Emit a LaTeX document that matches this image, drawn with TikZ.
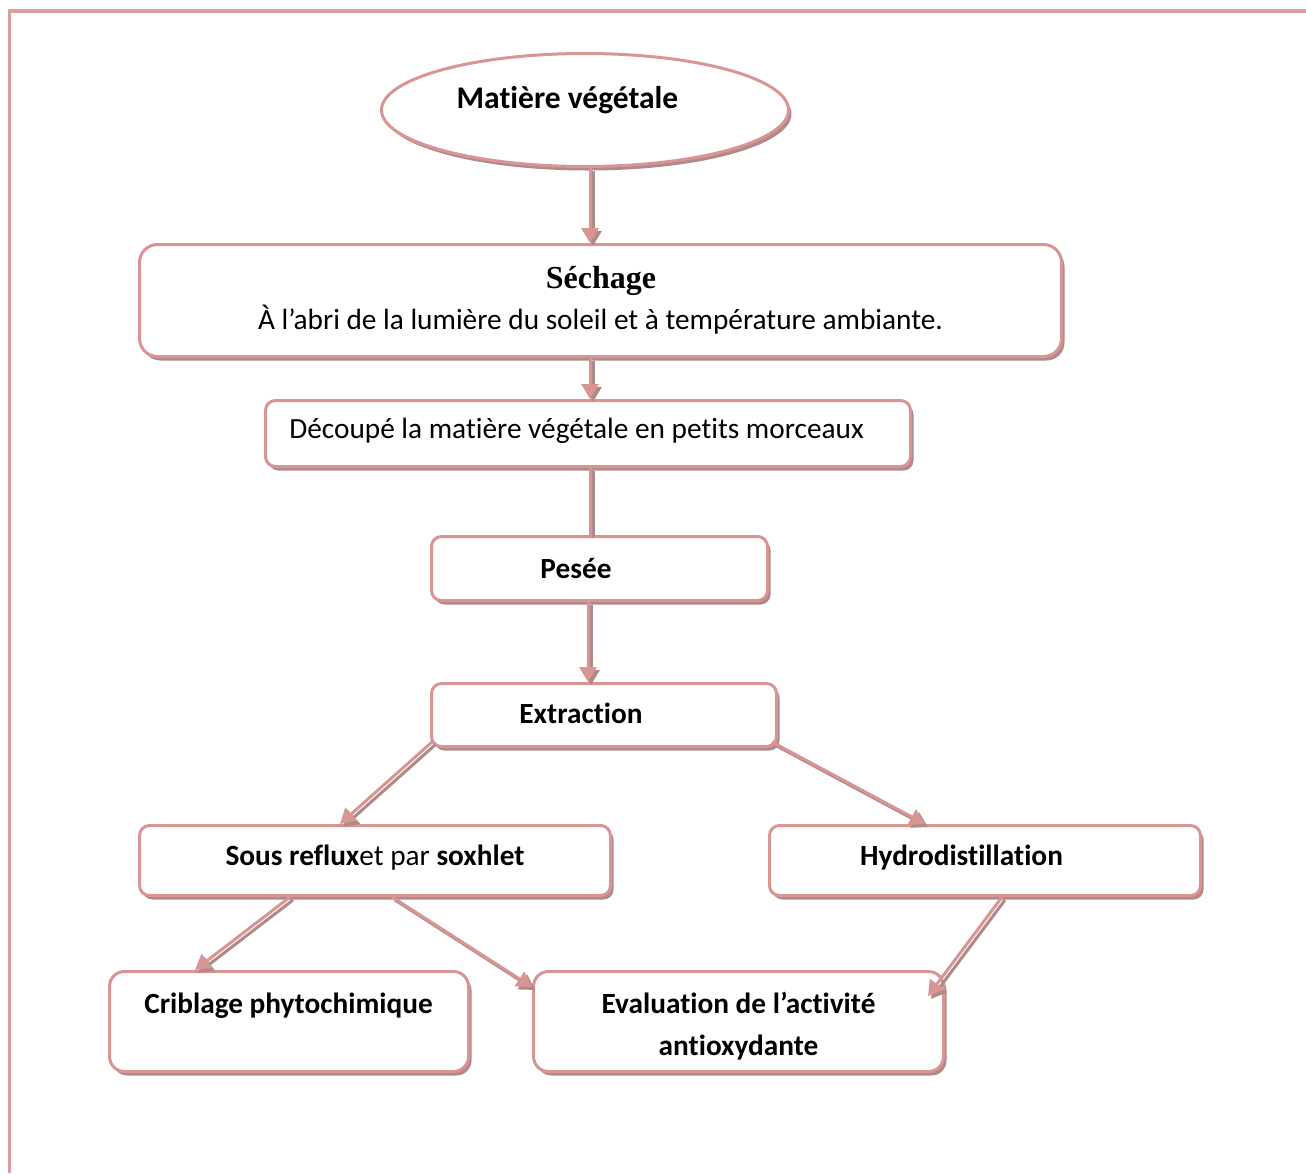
\documentclass[tikz,border=0pt]{standalone}
\usepackage{fontspec}
\setmainfont[Ligatures={NoCommon}]{Carlito}
\newfontfamily\serifbf{Liberation Serif}
\usetikzlibrary{arrows.meta,shapes.geometric,shadows,calc}
\definecolor{pinkc}{HTML}{D99594}
\definecolor{shadc}{HTML}{B08989}
\definecolor{framec}{HTML}{DE9C9C}
\newcommand\myconn[2][]{%
  \begin{scope}[transform canvas={shift={(3pt,-3pt)}}]\draw[arr,draw=shadc,#1] #2;\end{scope}
  \draw[arr,#1] #2;}
\begin{document}
\begin{tikzpicture}[x=1pt,y=-1pt,
  box/.style={draw=pinkc, line width=3pt, fill=white, rounded corners=#1, inner sep=0pt,
    drop shadow={shadow xshift=3pt, shadow yshift=-4pt, fill=shadc, opacity=1}},
  box/.default=10pt,
  oval/.style={ellipse, draw=pinkc, line width=3pt, fill=white, inner sep=0pt,
    drop shadow={shadow xshift=3pt, shadow yshift=-4pt, fill=shadc, opacity=1}},
  txt/.style={inner sep=0pt, anchor=base, font=\fontsize{29.3}{35}\selectfont},
  btxt/.style={txt, font=\fontsize{29.3}{35}\selectfont\bfseries},
  arr/.style={draw=pinkc, line width=3pt, -{Triangle[width=17pt,length=15pt]}},
  plain/.style={draw=pinkc, line width=3pt}]
\useasboundingbox (0,0) rectangle (1306,1173);
\fill[white] (0,0) rectangle (1306,1173);
% frame
\draw[framec, line width=3.5pt] (9.5,1173) -- (9.5,11) -- (1306,11);
% columns for vertical connectors
\coordinate (colA) at (590,0);
\coordinate (colB) at (588,0);
% shapes
\node[oval, minimum width=407pt, minimum height=113pt] (mv) at (585,110) {};
\node[box=18pt, minimum width=922pt, minimum height=112pt] (sech) at (600.5,300.5) {};
\node[box, minimum width=645pt, minimum height=66pt] (dec) at (588,433.5) {};
\node[box, minimum width=336pt, minimum height=64pt] (pes) at (599.5,568.5) {};
\node[box, minimum width=345pt, minimum height=63pt] (ext) at (604,715) {};
\node[box, minimum width=471pt, minimum height=70pt] (sous) at (375,860.5) {};
\node[box, minimum width=431pt, minimum height=70pt] (hyd) at (985,860.5) {};
\node[box=15pt, minimum width=359pt, minimum height=100pt] (crib) at (289,1021.5) {};
\node[box=15pt, minimum width=410pt, minimum height=100pt] (eval) at (738.5,1021.5) {};
% texts
\node[btxt, font=\fontsize{31.5}{36}\selectfont\bfseries] (mvt) at (567.5,108) {Matière végétale};
\node[txt, font=\fontsize{32}{36}\selectfont\serifbf\bfseries] (secht) at (601,288) {Séchage};
\node[txt] (secht2) at (600.5,329) {À l’abri de la lumière du soleil et à température ambiante.};
\node[txt] (dect) at (576.5,438) {Découpé la matière végétale en petits morceaux};
\node[btxt] (pest) at (576,578) {Pesée};
\node[btxt] (extt) at (581,723) {Extraction};
\node[txt] (soust) at (375,865) {\textbf{Sous reflux}et par \textbf{soxhlet}};
\node[btxt] (hydt) at (961.5,865) {Hydrodistillation};
\node[btxt] (cribt) at (288.5,1013) {Criblage phytochimique};
\node[btxt] (evalt) at (738.5,1013) {Evaluation de l’activité};
\node[btxt] (evalt2) at (738.5,1055) {antioxydante};
% connectors
\myconn{(colA |- mv.south) -- (colA |- sech.north)}
\myconn{(colA |- sech.south) -- (colA |- dec.north)}
\myconn[-]{(colA |- dec.south) -- (colA |- pes.north)}
\myconn{(colB |- pes.south) -- (colB |- ext.north)}
\myconn{([shift={(2,-6)}]ext.south west) -- ([xshift=-35pt]sous.north)}
\myconn{([shift={(-6,-6)}]ext.south east) -- ([xshift=-60pt]hyd.north)}
\myconn{([xshift=-85pt]sous.south) -- ([xshift=-94pt]crib.north)}
\myconn{([xshift=17pt]sous.south) -- ([yshift=34.5pt]eval.west)}
\myconn{([xshift=17pt]hyd.south) -- ([shift={(-17,26)}]eval.north east)}
\end{tikzpicture}
\end{document}
